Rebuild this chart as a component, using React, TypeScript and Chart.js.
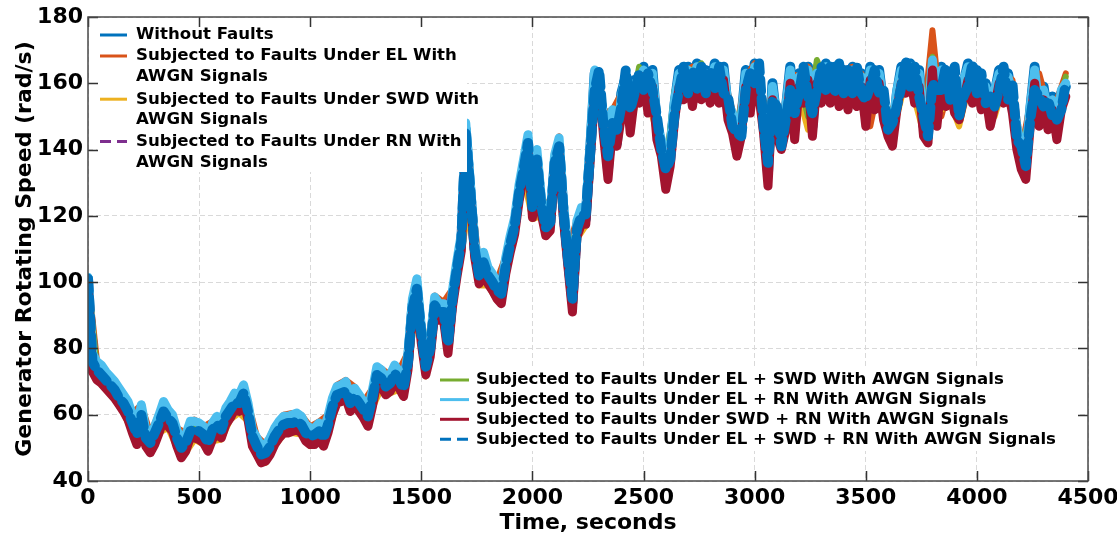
import React, { useEffect, useRef } from 'react';
import { Chart, registerables } from 'chart.js';

Chart.register(...registerables);

// ---------------- DATA ----------------
// time step (s) of the sampled series
const FINE_STEP = 20;   // 0..4400 s
const COARSE_STEP = 40; // 0..4400 s

const seriesLabels = [
  'Without Faults',
  'Subjected to Faults Under EL With AWGN Signals',
  'Subjected to Faults Under SWD With AWGN Signals',
  'Subjected to Faults Under RN With AWGN Signals',
  'Subjected to Faults Under EL + SWD With AWGN Signals',
  'Subjected to Faults Under EL + RN With AWGN Signals',
  'Subjected to Faults Under SWD + RN With AWGN Signals',
  'Subjected to Faults Under EL + SWD + RN With AWGN Signals',
];

const xTickValues = [0, 500, 1000, 1500, 2000, 2500, 3000, 3500, 4000, 4500];
const yTickValues = [40, 60, 80, 100, 120, 140, 160, 180];

// Without Faults (20 s sampling)
const withoutFaults = [
  101, 76, 73.5, 72.5, 70.5, 69, 67.5, 65.5, 63.5, 61.5,
  57.5, 54, 60.5, 53, 51.5, 54, 57.5, 61.5, 59, 57.5,
  53, 49.5, 51.5, 55.5, 55.5, 55, 54, 51.5, 55, 57,
  55.5, 59.5, 61.5, 64, 63.5, 66.5, 61, 53, 50.5, 48,
  48.5, 50.5, 53.5, 55.5, 57, 57, 57.5, 58, 57, 54.5,
  53.5, 53.5, 55, 53, 57, 62.5, 66, 66.5, 67.5, 63.5,
  65.5, 63.5, 61.5, 59, 65, 72, 71, 68.5, 69.5, 72.5,
  70.5, 68, 76, 93, 98, 84, 74.5, 80, 93, 91,
  91, 81, 95, 104, 112, 146, 128, 110, 102, 106.5,
  102, 100, 97.5, 96, 105, 111.5, 117, 127, 134.5, 142,
  122, 137.5, 123, 116.5, 118, 136, 141, 121, 107, 94,
  116, 121, 119, 140, 163, 157, 150, 134, 151, 142,
  157, 162, 149, 161, 157, 165, 156, 164, 147, 142,
  131, 140, 154, 164, 158, 165, 156, 166, 158, 164,
  157, 166, 158, 165, 152, 150, 141, 149, 164, 155,
  166, 158, 150, 133, 160, 148, 145, 152, 165, 147,
  163, 157, 165, 147, 164, 157, 166, 158, 165, 157,
  164, 156, 165, 157, 163, 151, 165, 156, 164, 153,
  149, 144, 157, 165, 160, 166, 158, 164, 147, 149,
  168, 150, 165, 157, 163, 155, 154, 160, 166, 158,
  164, 156, 160, 151, 157, 164, 158, 163, 155, 145,
  139, 137, 152, 165, 151, 159, 150, 156, 146, 157,
  159,
];

// EL (40 s sampling)
const faultsEL = [
  101.5, 76.5, 73, 70.5, 66, 60.5, 63, 54.5, 60.5, 62,
  56, 54.5, 58.5, 56.5, 58, 58.5, 64.5, 66, 64, 53.5,
  51, 56.5, 60, 60.5, 60, 56.5, 58, 60, 69, 70.5,
  68.5, 64, 68, 74, 72, 73.5, 79, 101, 77.5, 96,
  94, 98, 115, 131, 105, 105, 100.5, 108, 120, 137.5,
  125, 126, 121, 144, 110, 119, 123, 163, 151, 152,
  157, 152, 164, 160, 150, 135, 155, 163, 165, 162,
  163, 165, 157, 147, 162, 166, 149, 158, 148, 163,
  162, 165, 161, 164, 162, 164, 165, 163, 147, 160,
  148, 156, 164, 164, 149, 176, 150, 160, 158, 164,
  162, 158, 158, 163, 161, 140, 154, 163, 153, 155,
  163,
];

// SWD (40 s sampling)
const faultsSWD = [
  99.5, 70.5, 67.5, 64.5, 60.5, 54.5, 57.5, 48.5, 54.5, 56,
  50, 48.5, 52.5, 51, 52, 52.5, 58.5, 60.5, 58, 47.5,
  45.5, 50.5, 54, 54.5, 54, 50.5, 52, 54, 63, 64.5,
  62.5, 58.5, 62, 68, 66.5, 67.5, 73, 95, 71.5, 90,
  88, 92, 109, 125, 99, 99, 94.5, 102, 114, 131.5,
  119, 120, 115, 138, 104, 113, 117, 158, 145, 146,
  151, 147, 158, 155, 145, 130, 151, 158, 160, 158,
  157, 159, 152, 141, 156, 161, 145, 153, 142, 157,
  156, 146, 157, 161, 157, 158, 159, 160, 159, 156,
  143, 150, 161, 155, 145, 160, 152, 154, 147, 158,
  158, 152, 150, 159, 156, 138, 148, 152, 146, 149,
  157,
];

// RN (40 s sampling)
const faultsRN = [
  101, 74.5, 71.5, 68.5, 64.5, 58.5, 61, 52.5, 58.5, 60,
  54, 52.5, 56.5, 55, 56, 56.5, 62.5, 64.5, 62, 51.5,
  49.5, 54.5, 58, 58.5, 58, 54.5, 56, 58, 67, 68.5,
  66.5, 62.5, 66, 72, 70.5, 71.5, 77, 99, 75.5, 94,
  92, 96, 113, 129, 103, 103, 98.5, 106, 118, 135.5,
  123, 124, 119, 142, 108, 117, 121, 160, 149, 148,
  155, 149, 161, 158, 147, 132, 154, 162, 161, 163,
  160, 162, 155, 144, 160, 164, 146, 155, 144, 161,
  160, 151, 160, 165, 160, 162, 161, 162, 160, 157,
  146, 153, 163, 160, 147, 166, 156, 156, 151, 162,
  160, 156, 155, 162, 158, 139, 152, 155, 149, 147,
  161,
];

// EL + SWD (40 s sampling)
const faultsELSWD = [
  101, 74, 71, 68, 64, 58, 60.5, 52, 58, 59.5,
  53.5, 52, 56, 54.5, 55.5, 56, 62, 64, 61.5, 51,
  49, 54, 57.5, 58, 57.5, 54, 55.5, 57.5, 66.5, 68,
  66, 62, 65.5, 71.5, 70, 71, 76.5, 98.5, 75, 93.5,
  91.5, 95.5, 112.5, 128.5, 102.5, 102.5, 98, 105.5, 117.5, 135,
  122.5, 123.5, 118.5, 141.5, 107.5, 116.5, 120.5, 161, 149, 146,
  156, 150, 165, 157, 149, 134, 158, 162, 164, 166,
  158, 164, 151, 146, 161, 165, 148, 157, 147, 162,
  161, 150, 167, 160, 163, 160, 164, 161, 163, 159,
  149, 155, 166, 161, 148, 168, 157, 158, 154, 160,
  161, 157, 158, 165, 157, 141, 150, 157, 151, 150,
  162,
];

// EL + RN (20 s sampling)
const faultsELRN = [
  101.5, 78.5, 76, 75, 73, 71.5, 70, 68, 66, 64,
  60, 56.5, 63, 55.5, 54, 56.5, 60, 64, 61.5, 60,
  55.5, 52, 54, 58, 58, 57.5, 56.5, 54, 57.5, 59.5,
  58, 62, 64, 66.5, 66, 69, 63.5, 55.5, 53, 50.5,
  51, 53, 56, 58, 59.5, 59.5, 60, 60.5, 59.5, 57,
  56, 56, 57.5, 55.5, 59.5, 65, 68.5, 69, 70, 66,
  68, 66, 64, 61.5, 67.5, 74.5, 73.5, 71, 72, 75,
  73, 70.5, 78.5, 95, 101, 86.5, 77, 82.5, 95.5, 93.5,
  93.5, 83.5, 97.5, 106.5, 114.5, 148, 130.5, 112.5, 104.5, 109,
  104.5, 102.5, 100, 98.5, 107.5, 114, 119.5, 129.5, 137, 144.5,
  124.5, 140, 125.5, 119, 120.5, 138.5, 143.5, 123.5, 109.5, 96,
  118.5, 122.5, 122.5, 142, 164, 158, 151, 135, 152, 143,
  156, 163, 151, 160, 159, 164, 158, 163, 149, 143,
  133, 141, 155, 163, 160, 164, 158, 165, 160, 163,
  159, 165, 160, 164, 154, 151, 143, 150, 163, 157,
  165, 160, 151, 135, 159, 150, 146, 153, 164, 149,
  162, 159, 164, 149, 163, 159, 165, 160, 164, 159,
  163, 158, 164, 159, 162, 153, 164, 158, 163, 155,
  150, 146, 158, 164, 162, 165, 160, 163, 149, 150,
  167, 152, 164, 159, 162, 157, 155, 161, 165, 160,
  163, 158, 159, 153, 158, 163, 160, 162, 157, 147,
  141, 139, 153, 164, 153, 158, 152, 155, 148, 158,
  160,
];

// SWD + RN (20 s sampling)
const faultsSWDRN = [
  100, 73, 70.5, 69.5, 68, 66.5, 65, 63, 61, 58.5,
  54.5, 51, 57.5, 50.5, 48.5, 51, 54.5, 58.5, 56.5, 55,
  50.5, 47, 49, 53, 53, 52.5, 51.5, 49, 52.5, 54.5,
  53, 57, 59, 61.5, 61, 64, 58.5, 50.5, 48, 45.5,
  46, 48, 51, 53, 54.5, 54.5, 55, 55.5, 54.5, 52,
  51, 51, 52.5, 50.5, 54.5, 60, 63.5, 64, 65, 61,
  63, 61, 59, 56.5, 62.5, 69.5, 68.5, 66, 67, 70,
  68, 65.5, 73.5, 90.5, 95.5, 81.5, 72, 77.5, 90.5, 88.5,
  88.5, 78.5, 92.5, 101.5, 109.5, 143, 125.5, 107.5, 99.5, 104,
  99.5, 97.5, 95, 93.5, 102.5, 109, 114.5, 124.5, 132, 139.5,
  119.5, 135, 120.5, 114, 115.5, 133.5, 138.5, 118.5, 104.5, 91,
  113.5, 117.5, 117.5, 137, 156, 160, 144, 131, 146, 141,
  150, 160, 145, 156, 154, 162, 151, 159, 143, 138,
  128, 135, 149, 159, 155, 162, 153, 162, 155, 160,
  154, 162, 154, 161, 149, 145, 138, 144, 159, 151,
  162, 156, 145, 129, 155, 144, 140, 146, 160, 143,
  159, 154, 161, 144, 160, 154, 162, 154, 161, 153,
  160, 152, 161, 153, 159, 147, 161, 152, 160, 149,
  144, 141, 152, 160, 157, 162, 154, 159, 144, 142,
  164, 147, 160, 153, 158, 151, 149, 155, 161, 154,
  160, 152, 156, 147, 153, 160, 154, 158, 151, 140,
  134, 131, 147, 160, 147, 155, 146, 152, 143, 152,
  156,
];

// EL + SWD + RN (20 s sampling)
const faultsELSWDRN = [
  101, 76, 73.5, 72, 70.5, 69, 67.5, 65, 63.5, 61,
  57.5, 54, 60, 53, 51.5, 54.5, 57.5, 61, 59, 57.5,
  53, 50, 51.5, 55, 55.5, 55, 54, 51.5, 55.5, 57,
  55.5, 59.5, 61.5, 63.5, 63.5, 66.5, 61, 53.5, 50.5, 48,
  48.5, 50.5, 53.5, 55.5, 57, 57.5, 57.5, 58, 57, 54.5,
  53.5, 54, 55, 53, 57, 62.5, 66, 66.5, 67, 63.5,
  65.5, 63.5, 61.5, 59.5, 65, 72, 71, 68.5, 69.5, 72.5,
  70.5, 68, 76, 92, 98, 84.5, 74.5, 80, 93, 91,
  91, 81.5, 95, 104, 112.5, 145, 128, 110, 102, 106,
  102, 100, 97.5, 96.5, 105, 111.5, 117, 127, 134, 142,
  122, 137, 123, 116.5, 118, 136, 141, 121, 107, 95,
  116, 120, 120.5, 139, 158, 164, 147, 138, 148, 146,
  153, 164, 152, 157, 163, 158, 163, 158, 150, 140,
  134, 137, 151, 158, 165, 157, 164, 158, 165, 157,
  164, 158, 165, 157, 156, 147, 145, 144, 158, 163,
  160, 166, 147, 136, 155, 153, 141, 149, 158, 151,
  157, 165, 156, 151, 158, 165, 158, 165, 157, 166,
  157, 164, 157, 165, 157, 155, 159, 164, 157, 158,
  146, 148, 153, 159, 167, 159, 165, 156, 150, 144,
  160, 158, 158, 165, 155, 165, 150, 156, 159, 166,
  157, 163, 154, 156, 153, 158, 165, 155, 160, 143,
  141, 135, 149, 158, 156, 153, 155, 150, 149, 152,
  160,
];

// ---------------- STYLE ----------------
const FONT = "'DejaVu Sans', 'Liberation Sans', sans-serif";

const seriesStyles = [
  { data: withoutFaults, step: FINE_STEP, color: '#0072BD', width: 10, dash: [] as number[] },
  { data: faultsEL, step: COARSE_STEP, color: '#D95319', width: 6, dash: [] as number[] },
  { data: faultsSWD, step: COARSE_STEP, color: '#EDB120', width: 6, dash: [] as number[] },
  { data: faultsRN, step: COARSE_STEP, color: '#7E2F8E', width: 6, dash: [12, 7] },
  { data: faultsELSWD, step: COARSE_STEP, color: '#77AC30', width: 6, dash: [] as number[] },
  { data: faultsELRN, step: FINE_STEP, color: '#4DBEEE', width: 9, dash: [] as number[] },
  { data: faultsSWDRN, step: FINE_STEP, color: '#A2142F', width: 9, dash: [] as number[] },
  { data: faultsELSWDRN, step: FINE_STEP, color: '#0072BD', width: 10, dash: [12, 7] },
];

// legend layout (pixel positions in the canvas)
const topLegend = { boxX: 97, boxY: 26, boxW: 370, boxH: 146, lineX0: 100, lineX1: 127, textX: 136, rowYs: [35, 56, 99.2, 141.6], lineStep: 20.6, items: [0, 1, 2, 3] };
const bottomLegend = { boxX: 435, boxY: 369, boxW: 643, boxH: 82, lineX0: 440, lineX1: 469, textX: 476, rowYs: [380, 399.6, 419.3, 439.2], lineStep: 0, items: [4, 5, 6, 7] };

const overlayPlugin = {
  id: 'overlay',
  afterDatasetsDraw(chart: any) {
    const ctx: CanvasRenderingContext2D = chart.ctx;
    ctx.save();
    const drawLegend = (lg: typeof topLegend, wrap: boolean) => {
      ctx.fillStyle = '#ffffff';
      ctx.fillRect(lg.boxX, lg.boxY, lg.boxW, lg.boxH);
      ctx.font = `bold 16.6px ${FONT}`;
      ctx.textBaseline = 'middle';
      ctx.textAlign = 'left';
      lg.items.forEach((si, k) => {
        const st = seriesStyles[si];
        const y = lg.rowYs[k];
        ctx.strokeStyle = st.color;
        ctx.lineWidth = 3;
        ctx.setLineDash(st.dash.length ? [11, 6] : []);
        ctx.beginPath();
        ctx.moveTo(lg.lineX0, y);
        ctx.lineTo(lg.lineX1, y);
        ctx.stroke();
        ctx.setLineDash([]);
        ctx.fillStyle = '#000';
        const label = seriesLabels[si];
        const suffix = ' AWGN Signals';
        if (wrap && label.endsWith(suffix)) {
          ctx.fillText(label.slice(0, label.length - suffix.length), lg.textX, y);
          ctx.fillText(suffix.trim(), lg.textX, y + lg.lineStep);
        } else {
          ctx.fillText(label, lg.textX, y);
        }
      });
    };
    drawLegend(topLegend, true);
    drawLegend(bottomLegend, false);
    ctx.restore();
  },
  afterDraw(chart: any) {
    const ctx: CanvasRenderingContext2D = chart.ctx;
    const { left, right, top, bottom } = chart.chartArea;
    const xs = chart.scales.x;
    const ys = chart.scales.y;
    ctx.save();
    ctx.strokeStyle = '#333333';
    ctx.lineWidth = 1.5;
    ctx.setLineDash([]);
    const TL = 10;
    ctx.beginPath();
    xs.ticks.forEach((t: any) => {
      const px = Math.round(xs.getPixelForValue(t.value)) + 0.5;
      ctx.moveTo(px, bottom);
      ctx.lineTo(px, bottom - TL);
      ctx.moveTo(px, top);
      ctx.lineTo(px, top + TL);
    });
    ys.ticks.forEach((t: any) => {
      const py = Math.round(ys.getPixelForValue(t.value)) + 0.5;
      ctx.moveTo(left, py);
      ctx.lineTo(left + TL, py);
      ctx.moveTo(right, py);
      ctx.lineTo(right - TL, py);
    });
    ctx.stroke();
    ctx.strokeStyle = '#4a4a4a';
    ctx.lineWidth = 1.5;
    ctx.strokeRect(left, top, right - left, bottom - top);
    ctx.restore();
  },
};

export default function App() {
  const canvasRef = useRef<HTMLCanvasElement>(null);

  useEffect(() => {
    const canvas = canvasRef.current;
    if (!canvas) return;
    const datasets = seriesStyles.map((st, i) => ({
      label: seriesLabels[i],
      data: st.data.map((v, k) => ({ x: k * st.step, y: v })),
      borderColor: st.color,
      backgroundColor: st.color,
      borderWidth: st.width,
      borderDash: st.dash,
      borderJoinStyle: 'round' as const,
      borderCapStyle: 'round' as const,
      pointRadius: 0,
      fill: false,
      tension: 0,
      order: seriesStyles.length - i,
    }));

    const tickFont = { family: FONT, size: 22, weight: 'bold' as const };

    const chart = new Chart(canvas, {
      type: 'line',
      data: { datasets },
      options: {
        animation: false,
        responsive: false,
        maintainAspectRatio: false,
        events: [],
        layout: { padding: { left: 0, top: 17, right: 29, bottom: 0 } },
        plugins: {
          legend: { display: false },
          tooltip: { enabled: false },
        },
        scales: {
          x: {
            type: 'linear',
            min: 0,
            max: 4500,
            afterBuildTicks: (s: any) => { s.ticks = xTickValues.map((v) => ({ value: v })); },
            ticks: { font: tickFont, color: '#000', padding: 4, maxRotation: 0, autoSkip: false, callback: (v: any) => String(v) },
            grid: { color: '#d9d9d9', lineWidth: 1, drawTicks: false },
            border: { display: false, dash: [5, 3] },
            title: { display: true, text: 'Time, seconds', font: tickFont, color: '#000', padding: { top: 0, bottom: 5 } },
            afterFit: (s: any) => { s.height = 60; s.paddingLeft = 0; s.paddingRight = 0; },
          },
          y: {
            type: 'linear',
            min: 40,
            max: 180,
            afterBuildTicks: (s: any) => { s.ticks = yTickValues.map((v) => ({ value: v })); },
            ticks: { font: tickFont, color: '#000', padding: 5, autoSkip: false, callback: (v: any) => String(v) },
            grid: { color: '#d9d9d9', lineWidth: 1, drawTicks: false },
            border: { display: false, dash: [5, 3] },
            title: { display: true, text: 'Generator Rotating Speed (rad/s)', font: tickFont, color: '#000', padding: { top: 12, bottom: 0 } },
            afterFit: (s: any) => { s.width = 88; s.paddingTop = 0; s.paddingBottom = 0; },
          },
        },
      },
      plugins: [overlayPlugin],
    } as any);

    return () => chart.destroy();
  }, []);

  return (
    <div style={{ position: 'fixed', left: 0, top: 0, width: 1117, height: 541, background: '#ffffff' }}>
      <canvas ref={canvasRef} width={1117} height={541} style={{ display: 'block', width: 1117, height: 541 }} />
    </div>
  );
}
